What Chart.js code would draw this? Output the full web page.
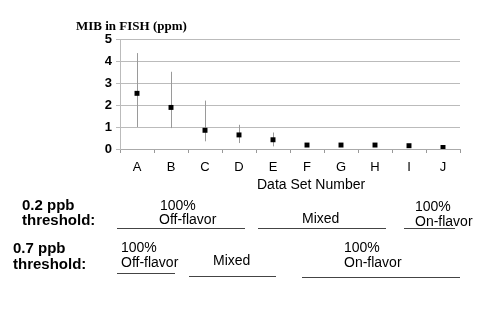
<!DOCTYPE html>
<html>
<head>
<meta charset="utf-8">
<script src="https://cdn.jsdelivr.net/npm/chart.js@4/dist/chart.umd.min.js"></script>
<style>
  html, body { margin: 0; padding: 0; background: #fff; }
  #wrap { position: relative; width: 500px; height: 314px; overflow: hidden; }
  canvas { position: absolute; left: 0; top: 0; }
  .t { position: absolute; line-height: 1; white-space: nowrap; color: #000; font-family: "Liberation Sans", Arial, sans-serif; }
  .b { font-weight: bold; font-size: 15px; }
  .r { font-size: 14px; }
  .ttl { font-family: "Liberation Serif", "Times New Roman", serif; font-weight: bold; font-size: 13px; }
  .ln { position: absolute; height: 0; border-top: 1px solid #444; }
</style>
</head>
<body>
<div id="wrap">
  <canvas id="c" width="500" height="314"></canvas>
  <div class="t ttl" style="left:76px; top:18.5px;">MIB in FISH (ppm)</div>
  <div class="t r" style="left:257px; top:177px;">Data Set Number</div>

  <div class="t b" style="left:22px; top:196.5px;">0.2 ppb</div>
  <div class="t b" style="left:22px; top:212px;">threshold:</div>
  <div class="t r" style="left:160px; top:198px;">100%</div>
  <div class="t r" style="left:159px; top:212px;">Off-flavor</div>
  <div class="t r" style="left:302px; top:211px;">Mixed</div>
  <div class="t r" style="left:415px; top:198.5px;">100%</div>
  <div class="t r" style="left:415px; top:213.5px;">On-flavor</div>
  <div class="ln" style="left:117px; top:228px; width:128px;"></div>
  <div class="ln" style="left:258px; top:228px; width:128px;"></div>
  <div class="ln" style="left:404px; top:228px; width:51px;"></div>

  <div class="t b" style="left:13px; top:239.5px;">0.7 ppb</div>
  <div class="t b" style="left:13px; top:255.5px;">threshold:</div>
  <div class="t r" style="left:121px; top:239.5px;">100%</div>
  <div class="t r" style="left:121px; top:254.5px;">Off-flavor</div>
  <div class="t r" style="left:213px; top:252.5px;">Mixed</div>
  <div class="t r" style="left:344px; top:239.5px;">100%</div>
  <div class="t r" style="left:344px; top:254.5px;">On-flavor</div>
  <div class="ln" style="left:117px; top:273px; width:58px;"></div>
  <div class="ln" style="left:189px; top:276px; width:87px;"></div>
  <div class="ln" style="left:302px; top:277px; width:158px;"></div>
</div>
<script>
const categories = ["A", "B", "C", "D", "E", "F", "G", "H", "I", "J"];
const mibValues = [2.53, 1.89, 0.85, 0.64, 0.42, 0.18, 0.18, 0.18, 0.15, 0.07];
const errHigh = [4.36, 3.51, 2.2, 1.1, 0.75, 0.2, 0.25, 0.22, 0.18, 0.08];
const errLow = [1.0, 0.95, 0.35, 0.27, 0.12, 0.15, 0.12, 0.14, 0.12, 0.05];
const yTicks = [0, 1, 2, 3, 4, 5];

const errorBars = {
  id: 'errorBars',
  beforeDatasetsDraw(chart) {
    const ctx = chart.ctx;
    const xs = chart.scales.x, ys = chart.scales.y;
    ctx.save();
    ctx.strokeStyle = '#9a9a9a';
    ctx.lineWidth = 1;
    categories.forEach((c, i) => {
      const x = Math.round(xs.getPixelForValue(i)) + 0.5;
      ctx.beginPath();
      ctx.moveTo(x, ys.getPixelForValue(errLow[i]));
      ctx.lineTo(x, ys.getPixelForValue(errHigh[i]));
      ctx.stroke();
    });
    ctx.restore();
  }
};

new Chart(document.getElementById('c'), {
  type: 'line',
  data: {
    labels: categories,
    datasets: [{
      data: mibValues,
      showLine: false,
      pointStyle: 'rect',
      pointRadius: 3.5,
      pointBackgroundColor: '#000',
      pointBorderColor: '#000',
      pointBorderWidth: 0
    }]
  },
  options: {
    responsive: false,
    animation: false,
    devicePixelRatio: 1,
    layout: { padding: { left: 0, right: 40, top: 39, bottom: 119 } },
    plugins: { legend: { display: false }, tooltip: { enabled: false }, title: { display: false } },
    scales: {
      x: {
        type: 'category',
        offset: true,
        afterFit(s) { s.height = 46; },
        grid: { offset: true, drawOnChartArea: false, color: '#999', tickLength: 4 },
        border: { display: true, color: '#aaa' },
        ticks: { color: '#000', font: { family: '"Liberation Sans", Arial', size: 13 }, padding: 7, maxRotation: 0 }
      },
      y: {
        min: 0, max: 5,
        afterFit(s) { s.width = 120; },
        afterBuildTicks(s) { s.ticks = yTicks.map(v => ({ value: v })); },
        grid: { color: '#bbb', tickLength: 4 },
        border: { display: true, color: '#bbb' },
        ticks: { color: '#000', font: { family: '"Liberation Sans", Arial', size: 13, weight: 'bold' }, padding: 4 }
      }
    }
  },
  plugins: [errorBars]
});
</script>
</body>
</html>
